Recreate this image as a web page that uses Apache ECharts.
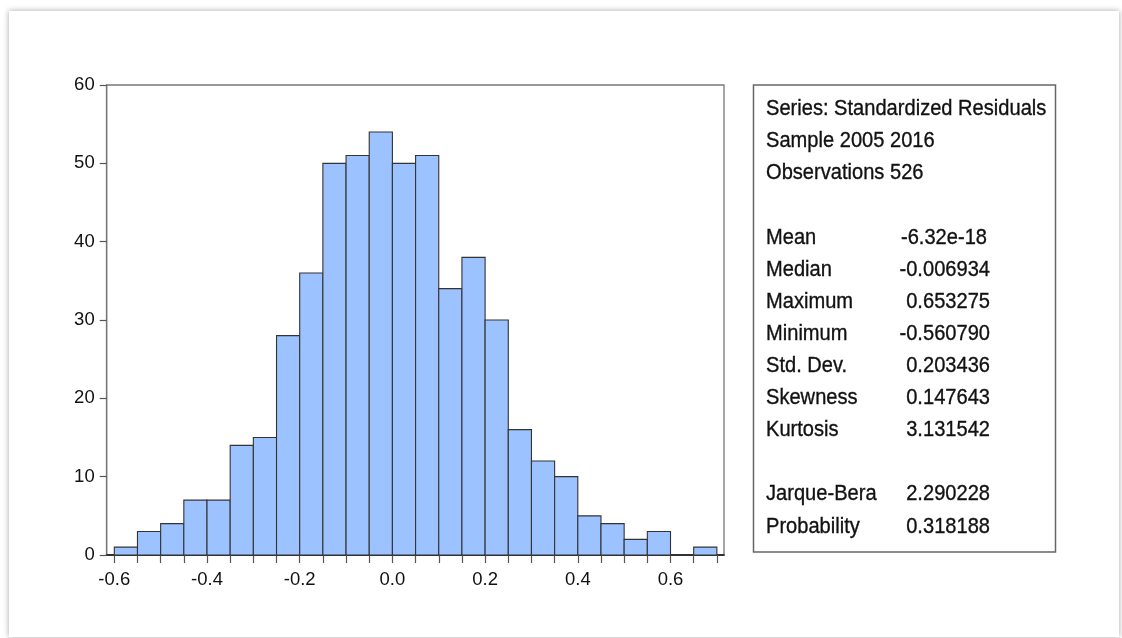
<!DOCTYPE html>
<html>
<head>
<meta charset="utf-8">
<script src="https://cdn.jsdelivr.net/npm/echarts@6/dist/echarts.min.js"></script>
<style>
html,body{margin:0;padding:0;background:#fff;}
#chart{width:1122px;height:638px;}
</style>
</head>
<body>
<div id="chart"></div>
<script>
// ---- data ----
var binWidth = 0.05;
var binStarts = [-0.60,-0.55,-0.50,-0.45,-0.40,-0.35,-0.30,-0.25,-0.20,-0.15,-0.10,-0.05,0.00,0.05,0.10,0.15,0.20,0.25,0.30,0.35,0.40,0.45,0.50,0.55,0.60,0.65];
var counts    = [1,3,4,7,7,14,15,28,36,50,51,54,50,51,34,38,30,16,12,10,5,4,2,3,0,1];
var xTickLabels = [-0.6,-0.4,-0.2,0.0,0.2,0.4,0.6];
var xTicks = [-0.6,-0.55,-0.5,-0.45,-0.4,-0.35,-0.3,-0.25,-0.2,-0.15,-0.1,-0.05,0,0.05,0.1,0.15,0.2,0.25,0.3,0.35,0.4,0.45,0.5,0.55,0.6,0.65,0.7];
var yTickLabels = [0,10,20,30,40,50,60];
var headerLines = ["Series: Standardized Residuals","Sample 2005 2016","Observations 526"];
var statNames  = ["Mean","Median","Maximum","Minimum","Std. Dev.","Skewness","Kurtosis"];
var statValues = ["-6.32e-18","-0.006934","0.653275","-0.560790","0.203436","0.147643","3.131542"];
var testNames  = ["Jarque-Bera","Probability"];
var testValues = ["2.290228","0.318188"];

var chart = echarts.init(document.getElementById('chart'), null, {renderer:'canvas'});

var FONT = '"Liberation Sans", Arial, sans-serif';
var lineStep = 32.1;
var textLeft = 766, valRight = 990;
var graphics = [];
graphics.push({
  type:'rect', z:-100, silent:true,
  shape:{x:9, y:11, width:1110, height:626},
  style:{fill:'#ffffff', shadowColor:'rgba(0,0,0,0.35)', shadowBlur:6}
});
graphics.push({
  type:'rect', z:5, silent:true,
  shape:{x:753.5, y:85, width:302, height:467},
  style:{fill:'none', stroke:'#666', lineWidth:1.5}
});
function addText(str, x, y, align){
  graphics.push({
    type:'text', z:6, silent:true, x:x, y:y, scaleX:0.893, scaleY:1,
    style:{text:str, fontFamily:FONT, fontSize:22.5, fill:'#111', align:align, verticalAlign:'middle',
      stroke:'#111', lineWidth:0.35}
  });
}
var y0 = 109;
headerLines.forEach(function(s,i){ addText(s, textLeft, y0 + i*lineStep, 'left'); });
statNames.forEach(function(s,i){
  var yy = y0 + (i+4)*lineStep;
  addText(s, textLeft, yy, 'left');
  addText(statValues[i], i===0 ? 987 : valRight, yy, 'right');
});
testNames.forEach(function(s,i){
  var yy = y0 + (i+12)*lineStep;
  addText(s, textLeft, yy, 'left');
  addText(testValues[i], valRight, yy, 'right');
});

var histData = binStarts.map(function(s,i){ return [s, s+binWidth, counts[i]]; });

var option = {
  animation:false,
  backgroundColor:'#ffffff',
  grid:{left:106.7, right:398, top:85, bottom:83, show:true, borderColor:'#777', borderWidth:1.3, backgroundColor:'transparent'},
  xAxis:{
    type:'value', min:-0.6164, max:0.7154,
    splitLine:{show:false},
    axisLine:{show:true, onZero:false, lineStyle:{color:'#111', width:1.6}},
    axisTick:{show:true, inside:false, length:8, customValues:xTicks, lineStyle:{color:'#555', width:1.2}},
    axisLabel:{show:true, customValues:xTickLabels, margin:15, fontFamily:FONT, fontSize:18.5, color:'#111',
      formatter:function(v){ return (Math.abs(v)<1e-9?0:v).toFixed(1); }}
  },
  yAxis:{
    type:'value', min:0, max:60, interval:10,
    splitLine:{show:false},
    axisLine:{show:true, onZero:false, lineStyle:{color:'#777', width:1.3}},
    axisTick:{show:true, inside:false, length:7, lineStyle:{color:'#555', width:1.2}},
    axisLabel:{show:true, margin:12, fontFamily:FONT, fontSize:18.5, color:'#111',
      customValues:yTickLabels}
  },
  series:[{
    type:'custom',
    data:histData,
    encode:{x:[0,1], y:2},
    z:2,
    renderItem:function(params, api){
      var x0 = api.value(0), x1 = api.value(1), c = api.value(2);
      if (!c) return null;
      var p0 = api.coord([x0, c]);
      var p1 = api.coord([x1, 0]);
      return {
        type:'rect',
        shape:{x:p0[0], y:p0[1], width:p1[0]-p0[0], height:p1[1]-p0[1]},
        style:{fill:'#9CC3FF', stroke:'#333', lineWidth:1.1}
      };
    }
  }],
  graphic:graphics
};
chart.setOption(option);
</script>
</body>
</html>
